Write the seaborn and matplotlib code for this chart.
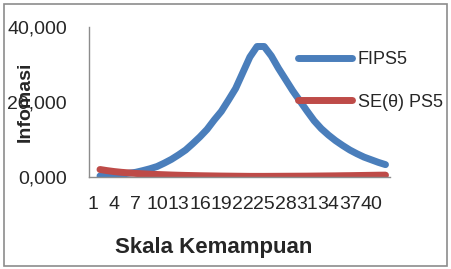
import numpy as np
import pandas as pd
import matplotlib
matplotlib.use("Agg")
import matplotlib.pyplot as plt
import matplotlib.transforms as mtransforms
import seaborn as sns

# Titik skala kemampuan (kategori 1..41)
skala = list(range(1, 42))

# Nilai yang dibaca dari gambar
fips5 = [0.27, 0.4, 0.6, 0.75, 1.0, 1.25, 1.7, 2.2, 2.8, 3.7,
         4.7, 5.9, 7.2, 8.9, 10.7, 12.7, 15.2, 17.5, 20.5, 23.6,
         27.8, 32.0, 34.8, 34.8, 32.3, 29.0, 26.0, 23.0, 20.3, 17.6,
         15.0, 12.9, 11.2, 9.7, 8.4, 7.2, 6.2, 5.3, 4.6, 3.9, 3.3]
se_ps5 = [2.0, 1.7, 1.45, 1.25, 1.1, 0.95, 0.85, 0.75, 0.67, 0.6,
          0.53, 0.47, 0.42, 0.38, 0.34, 0.31, 0.28, 0.25, 0.23, 0.21,
          0.19, 0.17, 0.17, 0.17, 0.18, 0.19, 0.2, 0.21, 0.22, 0.23,
          0.25, 0.27, 0.29, 0.31, 0.34, 0.36, 0.39, 0.42, 0.45, 0.48, 0.5]

y_ticks = [0, 20, 40]
y_labels = ["0,000", "20,000", "40,000"]
x_ticks = list(range(1, 41, 3))

df = pd.DataFrame({"Skala": skala * 2,
                   "Nilai": fips5 + se_ps5,
                   "Seri": ["FIPS5"] * len(skala) + ["SE(θ) PS5"] * len(skala)})

sns.set_style("white")
plt.rcParams["font.family"] = ["Liberation Sans", "DejaVu Sans"]

fig = plt.figure(figsize=(4.51, 2.69), dpi=100)
ax = fig.add_axes([89 / 451, 92 / 269, 301 / 451, 150 / 269])

sns.lineplot(data=df, x="Skala", y="Nilai", hue="Seri", ax=ax,
             palette={"FIPS5": "#4A7EBB", "SE(θ) PS5": "#BE4B48"},
             linewidth=5, legend=True)
for ln in ax.get_lines():
    ln.set_solid_capstyle("round")
    ln.set_solid_joinstyle("round")

ax.set_xlim(1 - 11 / 7.14, 41 + 4.5 / 7.14)
ax.set_ylim(0, 40)
ax.set_yticks(y_ticks)
ax.set_yticklabels(y_labels, fontsize=14)
ax.set_xticks(x_ticks)
ax.set_xticklabels([str(v) for v in x_ticks], fontsize=14)
ax.tick_params(axis="both", length=0)
ax.tick_params(axis="y", pad=16)
ax.tick_params(axis="x", pad=14)
shift = mtransforms.ScaledTranslation(-7 / 100, 0, fig.dpi_scale_trans)
for lbl in ax.get_xticklabels():
    lbl.set_transform(lbl.get_transform() + shift)

for side in ["top", "right"]:
    ax.spines[side].set_visible(False)
for side in ["left", "bottom"]:
    ax.spines[side].set_color("#8C8C8C")
    ax.spines[side].set_linewidth(1.0)
ax.set_xlabel("")
ax.set_ylabel("")

fig.text(25 / 451, 1 - 102 / 269, "Infomasi", rotation=90, fontsize=14,
         fontweight="bold", ha="center", va="center")
fig.text(214 / 451, 1 - 248 / 269, "Skala Kemampuan", fontsize=16,
         fontweight="bold", ha="center", va="center")

leg = ax.legend(loc="center left", bbox_to_anchor=(298 / 451, 1 - 81 / 269),
                bbox_transform=fig.transFigure, frameon=False, fontsize=13,
                handlelength=3.0, handletextpad=0.3, labelspacing=1.4,
                borderpad=0, borderaxespad=0)
for h in leg.get_lines():
    h.set_solid_capstyle("round")

fig.patches.append(plt.Rectangle((4 / 451, 3 / 269), 443 / 451, 262 / 269,
                                 transform=fig.transFigure, fill=False,
                                 edgecolor="#8C8C8C", linewidth=1.2))

fig.savefig("out.png", dpi=100)
